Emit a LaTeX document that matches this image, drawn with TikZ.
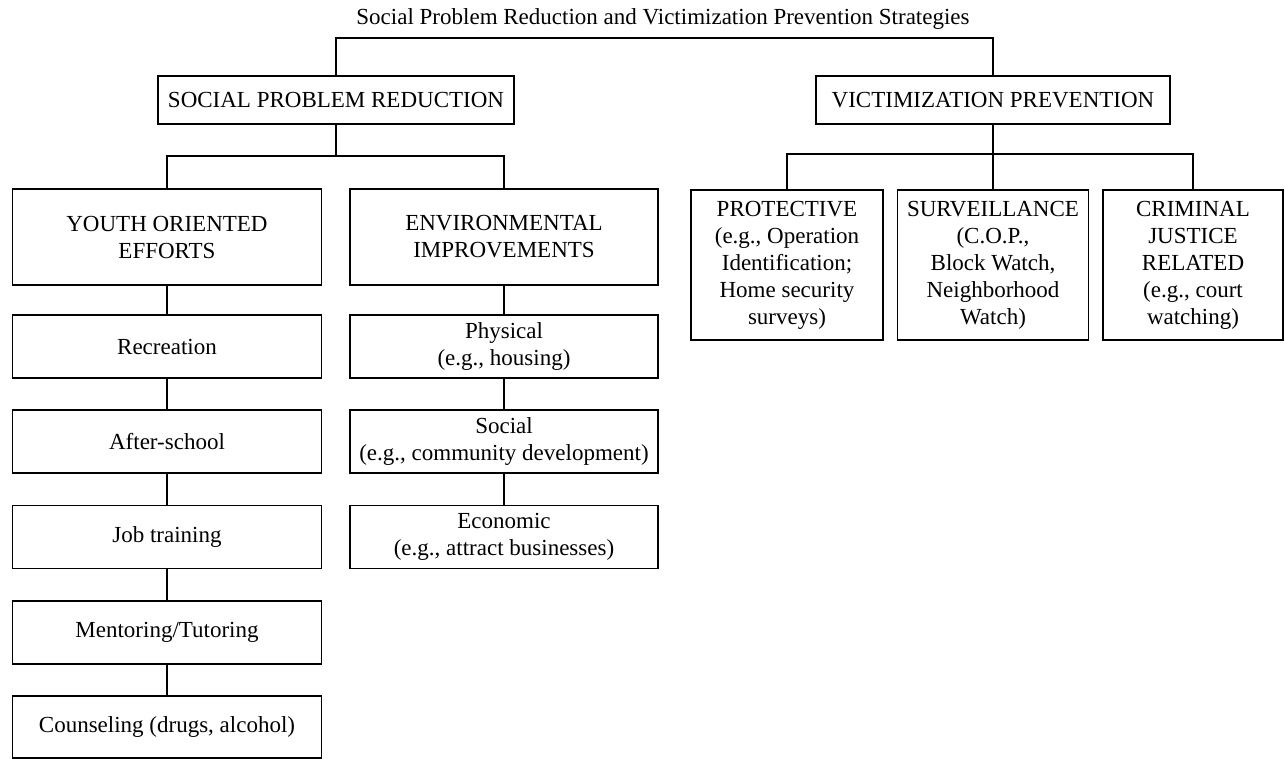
\documentclass[tikz,border=0pt]{standalone}
\usepackage{fontspec}
\setmainfont{Liberation Serif}
\usetikzlibrary{positioning, calc}

\begin{document}
\begin{tikzpicture}[x=0.5pt, y=-0.5pt,
        box/.style={draw, line width=0.7pt, inner sep=0pt, align=center, font=\fontsize{11.5}{13.5}\selectfont},
        wh/.style 2 args={minimum width=#1*0.5pt, minimum height=#2*0.5pt},
        link/.style={line width=1.3pt},
        heading/.style={font=\fontsize{11.5}{13.5}\selectfont, inner sep=0pt}
    ]
        \useasboundingbox (0,0) rectangle (1285,759);

        % Title
        \node[heading, anchor=base] (ttl) at (663,25) {Social Problem Reduction and Victimization Prevention Strategies};

        % Two main strategies
        \node[box, wh={356}{48}] (spr) at (336,100) {SOCIAL PROBLEM REDUCTION};
        \node[box, wh={354}{48}] (vp) at (993,100) {VICTIMIZATION PREVENTION};

        % Social problem reduction branches
        \node[box, wh={309}{96}] (youth) at (167,237) {YOUTH ORIENTED\\EFFORTS};
        \node[box, wh={308}{96}] (env) at (504,237) {ENVIRONMENTAL\\IMPROVEMENTS};

        % Youth column
        \node[box, wh={309}{63}] (rec) at (167,346.5) {Recreation};
        \node[box, wh={309}{63}] (after) at (167,441.5) {After-school};
        \node[box, wh={309}{63}] (job) at (167,537) {Job training};
        \node[box, wh={309}{63}] (ment) at (167,632.5) {Mentoring/Tutoring};
        \node[box, wh={309}{62}] (couns) at (167,727) {Counseling (drugs, alcohol)};

        % Environmental column
        \node[box, wh={308}{63}] (phys) at (504,346.5) {Physical\\(e.g., housing)};
        \node[box, wh={308}{63}] (soc) at (504,441.5) {Social\\(e.g., community development)};
        \node[box, wh={308}{63}] (econ) at (504,537) {Economic\\(e.g., attract businesses)};

        % Victimization prevention row
        \node[box, wh={192}{150}] (prot) at (787,265) {PROTECTIVE\\(e.g., Operation\\Identification;\\Home security\\surveys)};
        \node[box, wh={191}{150}] (surv) at (993,265) {SURVEILLANCE\\(C.O.P.,\\Block Watch,\\Neighborhood\\Watch)};
        \node[box, wh={180}{150}] (crim) at (1193,265) {CRIMINAL\\JUSTICE\\RELATED\\(e.g., court\\watching)};

        % Junctions
        \coordinate (top) at (663,38);
        \coordinate (jl) at (336,156);
        \coordinate (jr) at (993,154);

        % Connectors
        \draw[link] (spr.north) |- (top) -| (vp.north);
        \draw[link] (spr.south) -- (jl);
        \draw[link] (youth.north) |- (jl) -| (env.north);
        \draw[link] (vp.south) -- (jr);
        \draw[link] (prot.north) |- (jr) -| (crim.north);
        \draw[link] (jr) -- (surv.north);

        \foreach \a/\b in {youth/rec, rec/after, after/job, job/ment, ment/couns, env/phys, phys/soc, soc/econ} {
            \draw[link] (\a.south) -- (\b.north);
        }

    \end{tikzpicture}
\end{document}
